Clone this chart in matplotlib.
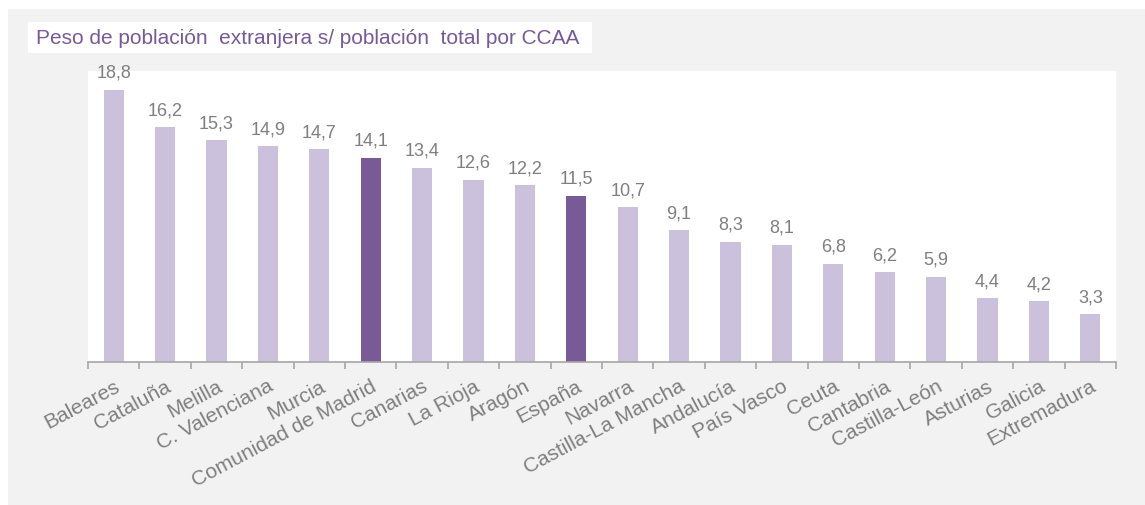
import matplotlib
matplotlib.use("Agg")
import numpy as np
import matplotlib.pyplot as plt
from matplotlib.patches import Rectangle

# data
regions = ["Baleares", "Cataluña", "Melilla", "C. Valenciana", "Murcia",
           "Comunidad de Madrid", "Canarias", "La Rioja", "Aragón", "España",
           "Navarra", "Castilla-La Mancha", "Andalucía", "País Vasco", "Ceuta",
           "Cantabria", "Castilla-León", "Asturias", "Galicia", "Extremadura"]
values = [18.8, 16.2, 15.3, 14.9, 14.7, 14.1, 13.4, 12.6, 12.2, 11.5,
          10.7, 9.1, 8.3, 8.1, 6.8, 6.2, 5.9, 4.4, 4.2, 3.3]
highlight = ["Comunidad de Madrid", "España"]

LIGHT = "#cbc1dc"
DARK = "#775a96"
GREY_TXT = "#7f7f7f"
TITLE_COL = "#775a96"

plt.rcParams['font.family'] = ['Liberation Sans', 'DejaVu Sans']

W, H = 1145, 506
fig = plt.figure(figsize=(W / 100, H / 100), dpi=100)
fig.patch.set_facecolor("white")

# grey panel behind everything
fig.patches.append(Rectangle((8 / W, 0), 1 - 8 / W, 1 - 10 / H,
                             transform=fig.transFigure, facecolor="#f2f2f2",
                             edgecolor="none", zorder=-10))
# white box behind the title
fig.patches.append(Rectangle((28 / W, 1 - 54 / H), (592 - 28) / W, 31 / H,
                             transform=fig.transFigure, facecolor="white",
                             edgecolor="none", zorder=-5))
fig.text(36 / W, 1 - 39 / H, "Peso de población  extranjera s/ población  total por CCAA",
         color=TITLE_COL, fontsize=15, va="center", ha="left", zorder=2)

ax = fig.add_axes([88 / W, 143 / H, (1116 - 88) / W, (363 - 72) / H])
ax.set_zorder(1)
ax.set_facecolor("white")

x = np.arange(len(regions))
colors = [DARK if r in highlight else LIGHT for r in regions]
ax.bar(x, values, width=0.39, color=colors, zorder=2)

for xi, v in zip(x, values):
    ax.annotate(f"{v:.1f}".replace(".", ","), (xi, v), xytext=(0, 9.4),
                textcoords="offset points", ha="center", va="baseline",
                color=GREY_TXT, fontsize=13, annotation_clip=False)

ax.set_xlim(-0.5, len(regions) - 0.5)
ax.set_ylim(0, 20.1)
for s in ["top", "right", "left"]:
    ax.spines[s].set_visible(False)
ax.spines["bottom"].set_color("#a6a6a6")
ax.spines["bottom"].set_linewidth(1.2)
ax.set_yticks([])

ax.set_xticks(x)
ax.set_xticklabels(regions, rotation=28, ha="right", rotation_mode="anchor",
                   color=GREY_TXT, fontsize=15)
ax.tick_params(axis="x", which="major", length=0, pad=10)
ax.set_xticks(np.arange(-0.5, len(regions)), minor=True)
ax.tick_params(axis="x", which="minor", length=5, width=1.2, color="#a6a6a6")

fig.savefig("out.png", dpi=100)
